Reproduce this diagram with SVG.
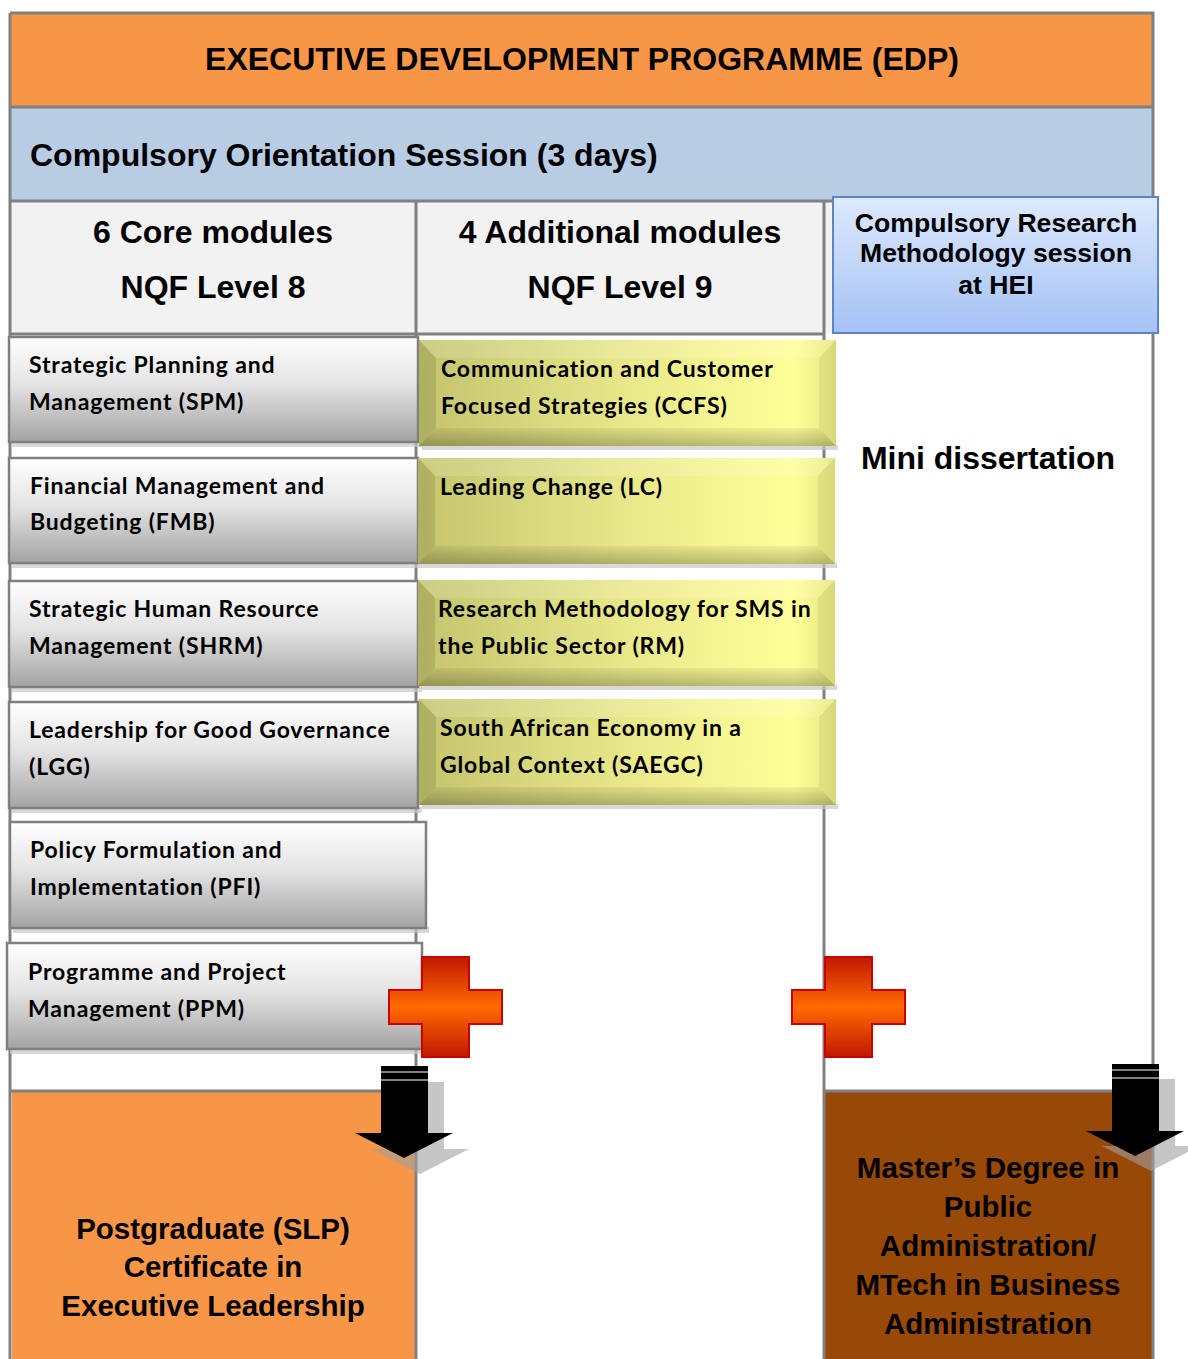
<svg xmlns="http://www.w3.org/2000/svg" width="1188" height="1359" viewBox="0 0 1188 1359">
<defs>
<style>
.grid{stroke:#808080;stroke-width:3;fill:none}
.ar{font-family:"Liberation Sans",Arial,sans-serif;font-weight:bold;fill:#000}
.mod{font-family:Lato,"Open Sans",sans-serif;font-weight:bold;font-size:23px;letter-spacing:0.85px;fill:#000}
.gbox{fill:url(#gGray);stroke:#7f7f7f;stroke-width:2.5}
.ybox{fill:url(#gYel)}
.shadow{fill:#c8c8c8;opacity:0.7}
</style>
<linearGradient id="gGray" x1="0" y1="0" x2="0" y2="1">
<stop offset="0" stop-color="#ffffff"/>
<stop offset="0.45" stop-color="#e4e4e4"/>
<stop offset="1" stop-color="#a3a3a3"/>
</linearGradient>
<linearGradient id="gYel" x1="0" y1="0" x2="1" y2="0">
<stop offset="0" stop-color="#c4c46e"/>
<stop offset="0.5" stop-color="#e8e88a"/>
<stop offset="0.9" stop-color="#ffff99"/>
<stop offset="1" stop-color="#e6e680"/>
</linearGradient>
<linearGradient id="gYelBot" x1="0" y1="0" x2="0" y2="1">
<stop offset="0" stop-color="#000" stop-opacity="0.05"/>
<stop offset="1" stop-color="#000" stop-opacity="0.25"/>
</linearGradient>
<linearGradient id="gBlue" x1="0" y1="0" x2="0" y2="1">
<stop offset="0" stop-color="#dde9fd"/>
<stop offset="1" stop-color="#a4c2f4"/>
</linearGradient>
<linearGradient id="gPlus" x1="0" y1="0" x2="0" y2="1">
<stop offset="0" stop-color="#c01800"/>
<stop offset="0.5" stop-color="#ff6a00"/>
<stop offset="1" stop-color="#c01800"/>
</linearGradient>
<g id="ybevel">
<polygon points="0,0 417,0 400,18 17,18" fill="#ffffff" opacity="0.15"/>
<polygon points="0,0 17,18 17,88 0,106" fill="#000000" opacity="0.10"/>
<polygon points="0,106 17,88 400,88 417,106" fill="url(#gYelBot)"/>
<polygon points="417,0 417,106 400,88 400,18" fill="#000000" opacity="0.06"/>
</g>
<path id="plus" d="M33,0 H80 V33 H113 V67 H80 V100 H33 V67 H0 V33 H33 Z"/>
<g id="arrow">
<polygon points="26,0 73,0 73,67 98,67 49,92 0,67 26,67"/>
</g>
</defs>

<!-- background cells -->
<rect x="10" y="13" width="1143" height="94" fill="#f79646"/>
<rect x="10" y="107" width="1143" height="94" fill="#b8cce4"/>
<rect x="10" y="201" width="814" height="133" fill="#f2f2f2"/>
<rect x="824" y="201" width="329" height="133" fill="#f2f2f2"/>
<rect x="12" y="1092" width="404" height="270" fill="#f79646"/>
<rect x="825" y="1092" width="327" height="270" fill="#984807"/>

<!-- grid lines -->
<g id="connectors">
<path class="grid" d="M10,13 H1153 V1362 M10,13 V1362 M10,107 H1153 M10,201 H1153 M10,334 H824 M416,201 V1362 M824,201 V1362 M10,1091 H416 M824,1091 H1153"/>
</g>

<g id="title">
<text class="ar" x="582" y="70" font-size="32" text-anchor="middle">EXECUTIVE DEVELOPMENT PROGRAMME (EDP)</text>
</g>
<g id="orientation">
<text class="ar" x="30" y="166" font-size="32">Compulsory Orientation Session (3 days)</text>
</g>
<g id="col-core">
<text class="ar" x="213" y="243" font-size="32" text-anchor="middle">6 Core modules</text>
<text class="ar" x="213" y="298" font-size="32" text-anchor="middle">NQF Level 8</text>
</g>
<g id="col-additional">
<text class="ar" x="620" y="243" font-size="32" text-anchor="middle">4 Additional modules</text>
<text class="ar" x="620" y="298" font-size="32" text-anchor="middle">NQF Level 9</text>
</g>
<g id="research-session">
<rect x="833" y="197" width="325" height="136" fill="url(#gBlue)" stroke="#5a86c5" stroke-width="2"/>
<text class="ar" x="996" y="232" font-size="26.6" text-anchor="middle">Compulsory Research</text>
<text class="ar" x="996" y="262" font-size="26.6" text-anchor="middle">Methodology session</text>
<text class="ar" x="996" y="294" font-size="26.6" text-anchor="middle">at HEI</text>
</g>
<g id="mini-dissertation">
<text class="ar" x="988" y="469" font-size="32" text-anchor="middle">Mini dissertation</text>
</g>

<!-- core modules -->
<g id="spm">
<rect class="shadow" x="12" y="441" width="410" height="6"/>
<rect class="gbox" x="9" y="337" width="409" height="105"/>
<text class="mod" x="29" y="373">Strategic Planning and</text>
<text class="mod" x="29" y="410">Management (SPM)</text>
</g>
<g id="fmb">
<rect class="shadow" x="12" y="562" width="410" height="6"/>
<rect class="gbox" x="9" y="458" width="409" height="105"/>
<text class="mod" x="30" y="494">Financial Management and</text>
<text class="mod" x="30" y="530">Budgeting (FMB)</text>
</g>
<g id="shrm">
<rect class="shadow" x="12" y="686" width="410" height="6"/>
<rect class="gbox" x="9" y="581" width="409" height="106"/>
<text class="mod" x="29" y="617">Strategic Human Resource</text>
<text class="mod" x="29" y="654">Management (SHRM)</text>
</g>
<g id="lgg">
<rect class="shadow" x="12" y="807" width="410" height="6"/>
<rect class="gbox" x="9" y="702" width="409" height="106"/>
<text class="mod" x="29" y="738">Leadership for Good Governance</text>
<text class="mod" x="29" y="775">(LGG)</text>
</g>
<g id="pfi">
<rect class="shadow" x="13" y="927" width="416" height="6"/>
<rect class="gbox" x="10" y="822" width="416" height="106"/>
<text class="mod" x="30" y="858">Policy Formulation and</text>
<text class="mod" x="30" y="895">Implementation (PFI)</text>
</g>
<g id="ppm">
<rect class="shadow" x="10" y="1048" width="414" height="6"/>
<rect class="gbox" x="7" y="943" width="415" height="106"/>
<text class="mod" x="28" y="980">Programme and Project</text>
<text class="mod" x="28" y="1017">Management (PPM)</text>
</g>

<!-- additional modules -->
<g id="ccfs">
<rect class="shadow" x="422" y="445" width="416" height="5"/>
<rect class="ybox" x="419" y="340" width="417" height="106"/>
<use href="#ybevel" x="419" y="340"/>
<text class="mod" x="441" y="377">Communication and Customer</text>
<text class="mod" x="441" y="414">Focused Strategies (CCFS)</text>
</g>
<g id="lc">
<rect class="shadow" x="421" y="563" width="416" height="5"/>
<rect class="ybox" x="418" y="458" width="417" height="106"/>
<use href="#ybevel" x="418" y="458"/>
<text class="mod" x="440" y="495">Leading Change (LC)</text>
</g>
<g id="rm">
<rect class="shadow" x="421" y="685" width="416" height="5"/>
<rect class="ybox" x="418" y="580" width="417" height="106"/>
<use href="#ybevel" x="418" y="580"/>
<text class="mod" x="438" y="617">Research Methodology for SMS in</text>
<text class="mod" x="438" y="654">the Public Sector (RM)</text>
</g>
<g id="saegc">
<rect class="shadow" x="422" y="804" width="416" height="5"/>
<rect class="ybox" x="419" y="699" width="417" height="106"/>
<use href="#ybevel" x="419" y="699"/>
<text class="mod" x="440" y="736">South African Economy in a</text>
<text class="mod" x="440" y="773">Global Context (SAEGC)</text>
</g>

<!-- plus signs -->
<g id="plus-left">
<use href="#plus" x="389" y="957" fill="url(#gPlus)" stroke="#cc0000" stroke-width="2"/>
</g>
<g id="plus-right">
<use href="#plus" x="792" y="957" fill="url(#gPlus)" stroke="#cc0000" stroke-width="2"/>
</g>

<!-- arrows -->
<g id="arrow-left">
<use href="#arrow" x="371" y="1082" fill="#a0a0a0" opacity="0.6"/>
<use href="#arrow" x="355" y="1066" fill="#000"/>
<path d="M381,1072 H428 M381,1080 H428" stroke="#ffffff" stroke-width="1"/>
</g>
<g id="arrow-right">
<use href="#arrow" x="1102" y="1079" fill="#a0a0a0" opacity="0.6"/>
<use href="#arrow" x="1086" y="1064" fill="#000"/>
<path d="M1112,1070 H1159 M1112,1078 H1159" stroke="#ffffff" stroke-width="1"/>
</g>

<g id="postgraduate">
<text class="ar" x="213" y="1239" font-size="29.5" text-anchor="middle">Postgraduate (SLP)</text>
<text class="ar" x="213" y="1277" font-size="29.5" text-anchor="middle">Certificate in</text>
<text class="ar" x="213" y="1316" font-size="29.5" text-anchor="middle">Executive Leadership</text>
</g>
<g id="masters">
<text class="ar" x="988" y="1178" font-size="29.5" text-anchor="middle">Master’s Degree in</text>
<text class="ar" x="988" y="1217" font-size="29.5" text-anchor="middle">Public</text>
<text class="ar" x="988" y="1256" font-size="29.5" text-anchor="middle">Administration/</text>
<text class="ar" x="988" y="1295" font-size="29.5" text-anchor="middle">MTech in Business</text>
<text class="ar" x="988" y="1334" font-size="29.5" text-anchor="middle">Administration</text>
</g>
</svg>
